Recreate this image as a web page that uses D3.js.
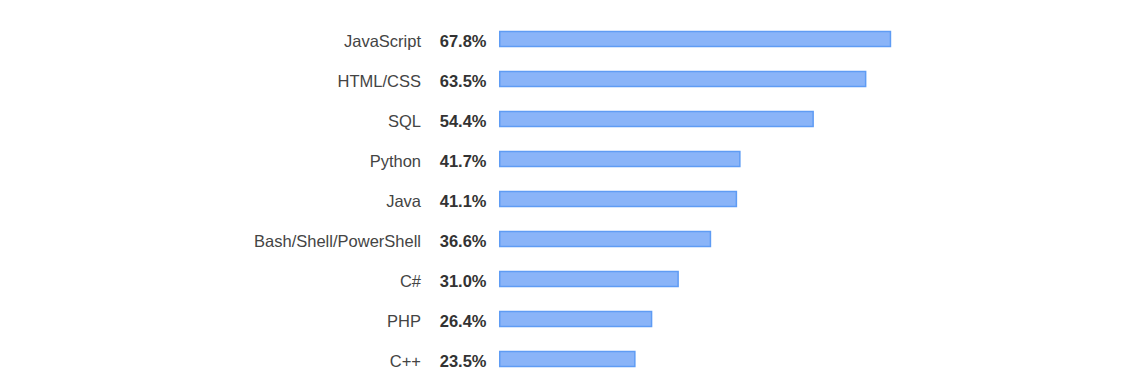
<!DOCTYPE html>
<html>
<head>
<meta charset="utf-8">
<script src="https://cdn.jsdelivr.net/npm/d3@7"></script>
<style>
  html, body { margin: 0; padding: 0; background: #ffffff; }
  svg { display: block; }
</style>
</head>
<body>
<svg id="chart" width="1140" height="384"></svg>
<script>
const categories = ["JavaScript", "HTML/CSS", "SQL", "Python", "Java", "Bash/Shell/PowerShell", "C#", "PHP", "C++"];
const values = [67.8, 63.5, 54.4, 41.7, 41.1, 36.6, 31.0, 26.4, 23.5];

const svg = d3.select("#chart");
const x = d3.scaleLinear().domain([0, 100]).range([499.5, 1076.5]);
const y = d3.scalePoint().domain(categories).range([39, 359]);
const barH = 15;

const rows = svg.append("g").selectAll("g")
  .data(categories.map((c, i) => ({ c, v: values[i] })))
  .join("g");

rows.append("rect")
  .attr("x", x(0) + 0.25)
  .attr("y", d => y(d.c) - barH / 2)
  .attr("width", d => x(d.v) - x(0) - 0.5)
  .attr("height", barH)
  .attr("fill", "#8ab4f8")
  .attr("stroke", "#5f9cf4")
  .attr("stroke-width", 1.5);

rows.append("text")
  .attr("x", 421)
  .attr("y", d => y(d.c) + 7.6)
  .attr("text-anchor", "end")
  .attr("font-family", "Liberation Sans, Arial, sans-serif")
  .attr("font-size", "16.5px")
  .attr("fill", "#444444")
  .text(d => d.c);

rows.append("text")
  .attr("x", 486.5)
  .attr("y", d => y(d.c) + 7.6)
  .attr("text-anchor", "end")
  .attr("font-family", "Liberation Sans, Arial, sans-serif")
  .attr("font-size", "16.5px")
  .attr("font-weight", "bold")
  .attr("fill", "#333333")
  .text(d => d3.format(".1f")(d.v) + "%");
</script>
</body>
</html>
